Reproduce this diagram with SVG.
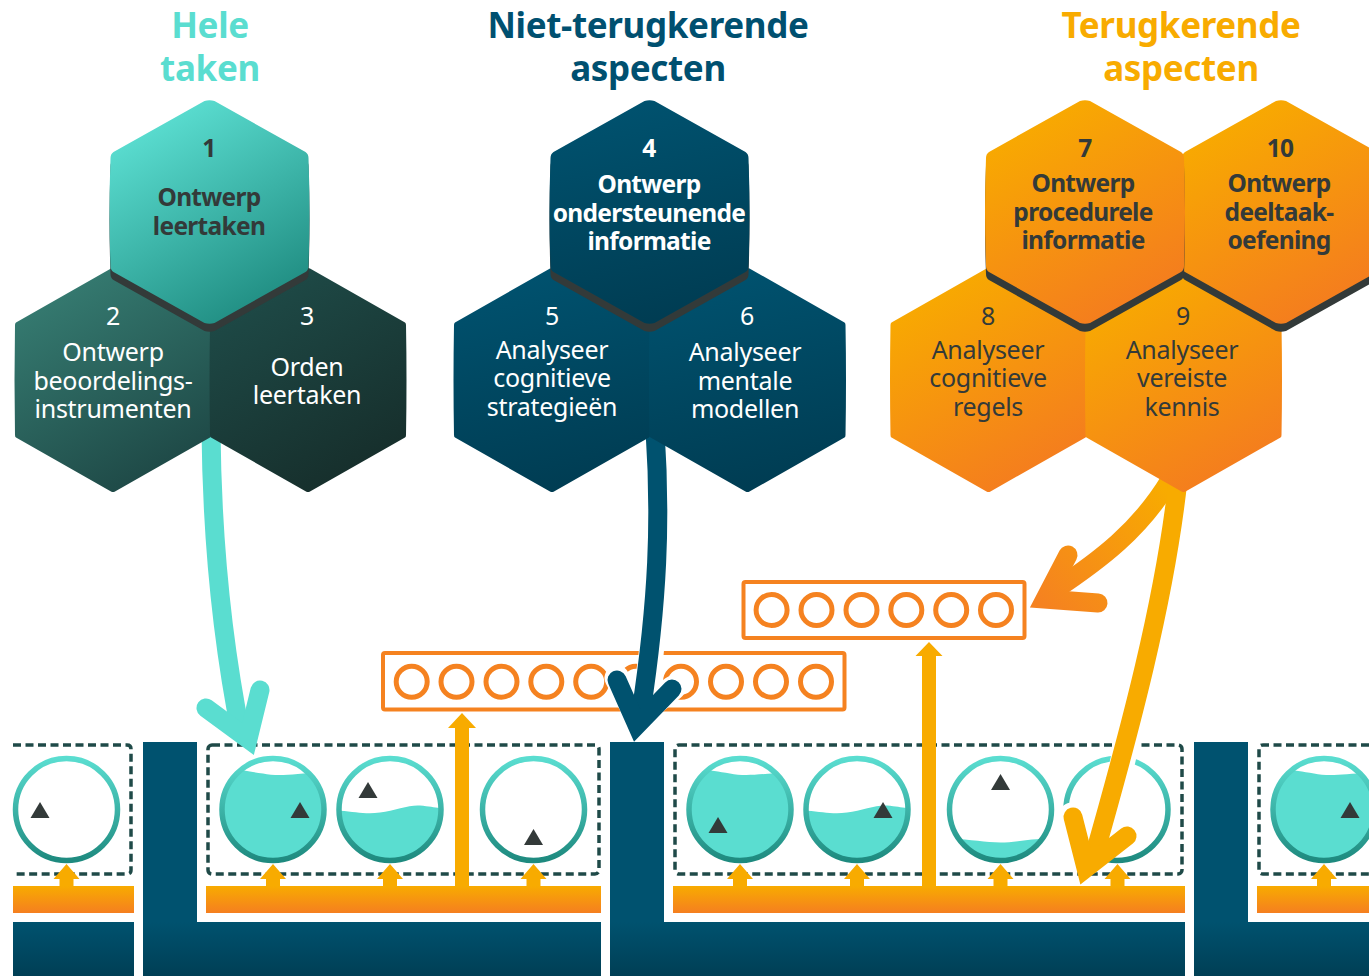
<svg xmlns="http://www.w3.org/2000/svg" width="1369" height="976" viewBox="0 0 1369 976">
<style>
text{font-family:"Noto Sans","Open Sans","Liberation Sans",sans-serif;text-anchor:middle}
.h{font-size:35px;font-weight:700;letter-spacing:-.35px}
.b{font-size:24.5px;font-weight:700;letter-spacing:-.7px}
.r{font-size:25px;font-weight:400;letter-spacing:-.28px}
.wt{fill:#fff}.dk{fill:#333a39}
.dash{fill:none;stroke:#1f4a48;stroke-width:3.5;stroke-dasharray:8 4.5}
.bar{fill:url(#gO)}.blue{fill:url(#gL)}
.ring{fill:none;stroke:url(#gR);stroke-width:5.5}
.water{fill:#5addd0}.tri{fill:#333a39}
.box{fill:#fff;stroke:#f58220;stroke-width:4}
.dot{fill:none;stroke:#f58220;stroke-width:5}
.halo{fill:none;stroke:#fff;stroke-width:25;stroke-linecap:round;stroke-linejoin:round}
.shaft{fill:none;stroke-width:19}
.wing{fill:none;stroke-width:19;stroke-linecap:round;stroke-linejoin:miter;stroke-miterlimit:10}
.up{fill:#f8ab00}
</style>
<defs>
<linearGradient id="gO" x1="0" y1="0" x2="0" y2="1"><stop offset="0" stop-color="#f8ab00"/><stop offset="1" stop-color="#f57f20"/></linearGradient>
<linearGradient id="gL" gradientUnits="userSpaceOnUse" x1="0" y1="922" x2="0" y2="976"><stop offset="0" stop-color="#00526f"/><stop offset="1" stop-color="#003f55"/></linearGradient>
<linearGradient id="gR" x1="0" y1="0" x2="0" y2="1"><stop offset="0" stop-color="#5addd0"/><stop offset="1" stop-color="#1e8a7f"/></linearGradient>
<linearGradient id="hT" x1="0.25" y1="0.08" x2="0.72" y2="1"><stop offset="0" stop-color="#5addd0"/><stop offset="1" stop-color="#1e8a7f"/></linearGradient>
<linearGradient id="hM" x1="0.25" y1="0.08" x2="0.72" y2="1"><stop offset="0" stop-color="#357a70"/><stop offset="1" stop-color="#1d4644"/></linearGradient>
<linearGradient id="hD" x1="0.25" y1="0.08" x2="0.72" y2="1"><stop offset="0" stop-color="#1e4a47"/><stop offset="1" stop-color="#162d2a"/></linearGradient>
<linearGradient id="hB" x1="0.4" y1="0" x2="0.6" y2="1"><stop offset="0" stop-color="#00526f"/><stop offset="1" stop-color="#003c52"/></linearGradient>
<linearGradient id="hO" x1="0.25" y1="0.05" x2="0.72" y2="1"><stop offset="0" stop-color="#f8ab00"/><stop offset="1" stop-color="#f47a20"/></linearGradient>
<linearGradient id="gA" gradientUnits="userSpaceOnUse" x1="1165" y1="490" x2="1050" y2="610"><stop offset="0" stop-color="#f8ab00"/><stop offset="1" stop-color="#f58220"/></linearGradient>
<path id="hex" d="M-5 -111Q0 -112.500 5 -111L96 -60Q99 -58 99 -54Q101 0 99 54Q99 58 96 60L5 111Q0 112.500 -5 111L-96 60Q-99 58 -99 54Q-101 0 -99 -54Q-99 -58 -96 -60Z"/>
<path id="hexL" d="M-2 -111.500Q0 -112.500 2 -111.500L97 -57.500Q98 -57 98 -55Q99 0 98 55Q98 57 97 57.500L2 111.500Q0 112.500 -2 111.500L-97 57.500Q-98 57 -98 55Q-99 0 -98 -55Q-98 -57 -97 -57.500Z"/>
<clipPath id="inner"><circle r="50"/></clipPath>
<circle id="ring" r="51" class="ring"/>
<path id="tri" d="M0 -8L9.500 8H-9.500Z" class="tri"/>
<path id="waveF" class="water" clip-path="url(#inner)" d="M-52 -39C-35 -41 -25 -38 -10 -36C5 -33 20 -35 52 -38V60H-52Z"/>
<path id="waveH" class="water" clip-path="url(#inner)" d="M-52 1C-35 2 -25 5 -10 3C5 1 20 -5 30 -4C40 -3 45 -2 52 -1V60H-52Z"/>
<path id="waveL" class="water" clip-path="url(#inner)" d="M-52 29C-30 30 -15 33 0 33C15 33 30 29 52 29V60H-52Z"/>
<path id="up" class="up" d="M-7 0V-7H-13L0 -22L13 -7H7V0Z"/>
<circle id="dot" r="15.500" class="dot"/>
</defs>
<rect width="1369" height="976" fill="#fff"/>

<g id="headings">
<text class="h" x="210" y="38" fill="#5addd0">Hele</text>
<text class="h" x="210" y="81" fill="#5addd0">taken</text>
<text class="h" x="648" y="38" fill="#005070">Niet-terugkerende</text>
<text class="h" x="648" y="81" fill="#005070">aspecten</text>
<text class="h" x="1181" y="38" fill="#f8ab00">Terugkerende</text>
<text class="h" x="1181" y="81" fill="#f8ab00">aspecten</text>
</g>

<g id="foundation">
<rect x="13" y="922" width="121" height="54" class="blue"/>
<path d="M143 742H197V922H601V976H143Z" fill="#00526f"/>
<path d="M610 742H664V922H1185V976H610Z" fill="#00526f"/>
<path d="M1194 742H1248V922H1369V976H1194Z" fill="#00526f"/>
<rect x="143" y="922" width="458" height="54" class="blue"/>
<rect x="610" y="922" width="575" height="54" class="blue"/>
<rect x="1194" y="922" width="175" height="54" class="blue"/>
<rect x="13" y="886" width="121" height="27" class="bar"/>
<rect x="206" y="886" width="395" height="27" class="bar"/>
<rect x="673" y="886" width="512" height="27" class="bar"/>
<rect x="1257" y="886" width="112" height="27" class="bar"/>
</g>

<g id="task-class-1">
<path class="dash" d="M13 745H127Q131 745 131 749V870Q131 874 127 874H13"/>
<g transform="translate(66.500 809.500)"><use href="#ring"/><use href="#tri" x="-26.500" y="0.500"/></g>
</g>
<g id="task-class-2">
<rect class="dash" x="208" y="745" width="391" height="129" rx="4"/>
<g transform="translate(273 809.500)"><use href="#waveF"/><use href="#ring"/><use href="#tri" x="27" y="0.500"/></g>
<g transform="translate(390 809.500)"><use href="#waveH"/><use href="#ring"/><use href="#tri" x="-22" y="-19.500"/></g>
<g transform="translate(533.500 809.500)"><use href="#ring"/><use href="#tri" y="27.500"/></g>
</g>
<g id="task-class-3">
<rect class="dash" x="675" y="745" width="507" height="129" rx="4"/>
<g transform="translate(740 809.500)"><use href="#waveF"/><use href="#ring"/><use href="#tri" x="-22" y="15.500"/></g>
<g transform="translate(857 809.500)"><use href="#waveH"/><use href="#ring"/><use href="#tri" x="26" y="0.500"/></g>
<g transform="translate(1000.500 809.500)"><use href="#waveL"/><use href="#ring"/><use href="#tri" y="-27.500"/></g>
<g transform="translate(1117 809.500)"><use href="#ring"/></g>
</g>
<g id="task-class-4">
<path class="dash" d="M1369 745H1263Q1259 745 1259 749V870Q1259 874 1263 874H1369"/>
<g transform="translate(1324 809.500)"><use href="#waveF"/><use href="#ring"/><use href="#tri" x="26" y="0.500"/></g>
</g>

<g id="memory-box-1">
<rect class="box" x="383" y="653" width="461.500" height="56.500" rx="2"/>
<use href="#dot" x="411.700" y="681.700"/><use href="#dot" x="456.500" y="681.700"/><use href="#dot" x="501.500" y="681.700"/><use href="#dot" x="546.300" y="681.700"/><use href="#dot" x="591.200" y="681.700"/><use href="#dot" x="636" y="681.700"/><use href="#dot" x="681" y="681.700"/><use href="#dot" x="726" y="681.700"/><use href="#dot" x="771" y="681.700"/><use href="#dot" x="816" y="681.700"/>
</g>
<g id="memory-box-2">
<rect class="box" x="743.500" y="582" width="281" height="56" rx="2"/>
<use href="#dot" x="771.600" y="610"/><use href="#dot" x="816.500" y="610"/><use href="#dot" x="861.500" y="610"/><use href="#dot" x="906.300" y="610"/><use href="#dot" x="951.200" y="610"/><use href="#dot" x="996" y="610"/>
</g>

<g id="connectors">
<path class="shaft" stroke="#5addd0" d="M211 430C212 540 222 640 241 735"/>
<path class="wing" stroke="#5addd0" d="M206 708L248 739L260 690"/>

<path class="halo" d="M654 600C654 640 650 670 642 710"/>
<path class="halo" d="M617 678L637 716L673 688"/>
<path class="shaft" stroke="#00526f" d="M655 430C661 520 658 600 641 712"/>
<path class="wing" stroke="#00526f" d="M617 680L637 725L672 689"/>

<path class="shaft" stroke="url(#gA)" d="M1170 480C1140 530 1100 560 1055 590"/>
<path class="wing" stroke="url(#gA)" d="M1068 555L1045 599L1098 603"/>

<path class="halo" d="M1136 700C1125 760 1110 810 1094 860"/>
<path class="halo" d="M1072 815L1086 858L1127 835"/>
<path class="shaft" stroke="#f8ab00" d="M1178 480C1165 600 1130 730 1093 860"/>
<path class="wing" stroke="#f8ab00" d="M1073 817L1086 868L1127 836"/>

<use href="#up" x="66.500" y="886"/><use href="#up" x="273" y="886"/><use href="#up" x="390" y="886"/><use href="#up" x="533.500" y="886"/>
<use href="#up" x="740" y="886"/><use href="#up" x="857" y="886"/><use href="#up" x="1000.500" y="886"/><use href="#up" x="1117.500" y="886"/><use href="#up" x="1324" y="886"/>
<path class="up" d="M455 886V728H448L462 713L476 728H469V886Z"/>
<path class="up" d="M922 886V656H915.500L929 642L942.500 656H936V886Z"/>
</g>

<g id="node-2"><use href="#hexL" x="113" y="380" fill="url(#hM)"/><text class="r wt" x="113" y="325">2</text><text class="r wt" x="113" y="361">Ontwerp</text><text class="r wt" x="113" y="390">beoordelings-</text><text class="r wt" x="113" y="418">instrumenten</text></g>
<g id="node-3"><use href="#hexL" x="308" y="380" fill="url(#hD)"/><text class="r wt" x="307" y="325">3</text><text class="r wt" x="307" y="376">Orden</text><text class="r wt" x="307" y="404">leertaken</text></g>
<g id="node-1"><use href="#hex" x="209.500" y="220" fill="#333a39"/><use href="#hex" x="209.500" y="212" fill="url(#hT)"/><text class="b dk" x="209" y="157">1</text><text class="b dk" x="209" y="206">Ontwerp</text><text class="b dk" x="209" y="235">leertaken</text></g>

<g id="node-5"><use href="#hexL" x="552" y="380" fill="url(#hB)"/><text class="r wt" x="552" y="325">5</text><text class="r wt" x="552" y="359">Analyseer</text><text class="r wt" x="552" y="387">cognitieve</text><text class="r wt" x="552" y="416">strategieën</text></g>
<g id="node-6"><use href="#hexL" x="747.500" y="380" fill="url(#hB)"/><text class="r wt" x="747" y="325">6</text><text class="r wt" x="745" y="361">Analyseer</text><text class="r wt" x="745" y="390">mentale</text><text class="r wt" x="745" y="418">modellen</text></g>
<g id="node-4"><use href="#hex" x="649.500" y="220" fill="#333a39"/><use href="#hex" x="649.500" y="212" fill="url(#hB)"/><text class="b wt" x="649" y="157">4</text><text class="b wt" x="649" y="193">Ontwerp</text><text class="b wt" x="649" y="222">ondersteunende</text><text class="b wt" x="649" y="250">informatie</text></g>

<g id="node-8"><use href="#hexL" x="988.500" y="380" fill="url(#hO)"/><text class="r dk" x="988" y="325">8</text><text class="r dk" x="988" y="359">Analyseer</text><text class="r dk" x="988" y="387">cognitieve</text><text class="r dk" x="988" y="416">regels</text></g>
<g id="node-9"><use href="#hexL" x="1183.500" y="380" fill="url(#hO)"/><text class="r dk" x="1183" y="325">9</text><text class="r dk" x="1182" y="359">Analyseer</text><text class="r dk" x="1182" y="387">vereiste</text><text class="r dk" x="1182" y="416">kennis</text></g>
<g id="node-10"><use href="#hex" x="1281" y="220" fill="#333a39"/><use href="#hex" x="1281" y="212" fill="url(#hO)"/><text class="b dk" x="1280" y="157">10</text><text class="b dk" x="1279" y="192">Ontwerp</text><text class="b dk" x="1279" y="221">deeltaak-</text><text class="b dk" x="1279" y="249">oefening</text></g>
<g id="node-7"><use href="#hex" x="1085" y="220" fill="#333a39"/><use href="#hex" x="1085" y="212" fill="url(#hO)"/><text class="b dk" x="1085" y="157">7</text><text class="b dk" x="1083" y="192">Ontwerp</text><text class="b dk" x="1083" y="221">procedurele</text><text class="b dk" x="1083" y="249">informatie</text></g>
</svg>
